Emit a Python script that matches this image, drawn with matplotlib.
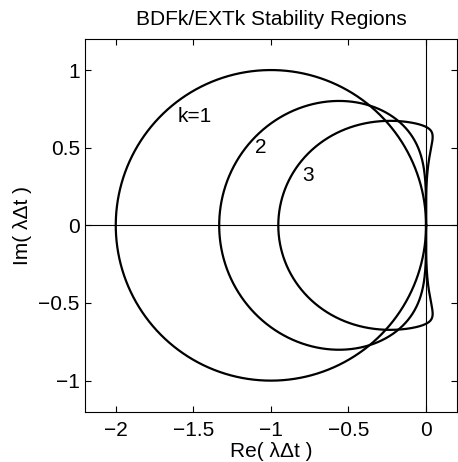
import numpy as np
import matplotlib
matplotlib.use("Agg")
import matplotlib.pyplot as plt

# BDFk / EXTk coefficients (highest power of z first)
bdf1 = [1.0, -1.0]
ext1 = [1.0]
bdf2 = [3/2, -2.0, 1/2]
ext2 = [2.0, -1.0]
bdf3 = [11/6, -3.0, 3/2, -1/3]
ext3 = [3.0, -3.0, 1.0]

schemes = [(bdf1, ext1), (bdf2, ext2), (bdf3, ext3)]
labels = ["k=1", "2", "3"]
label_pos = [(-1.6, 0.7), (-1.1, 0.5), (-0.8, 0.32)]

plt.rcParams['font.family'] = ['Liberation Sans', 'DejaVu Sans']
plt.rcParams['font.size'] = 15

fig = plt.figure(figsize=(4.58, 4.62), dpi=100)
ax = fig.add_axes([0.185, 0.1089, 0.813, 0.8067])

# boundary locus: lambda*dt = rho(z)/sigma(z), z = exp(i theta)
th = np.linspace(0, 2*np.pi, 2000)
z = np.exp(1j*th)
for bdf, ext in schemes:
    w = np.polyval(bdf, z) / np.polyval(ext, z)
    ax.plot(w.real, w.imag, color='black', lw=1.6)

ax.axhline(0, color='black', lw=0.8)
ax.axvline(0, color='black', lw=0.8)

for lab, (x, y) in zip(labels, label_pos):
    ax.text(x, y, lab, ha='left', va='center', fontsize=15)

ax.set_xlim(-2.2, 0.2)
ax.set_ylim(-1.2, 1.2)
ax.set_xticks([-2, -1.5, -1, -0.5, 0])
ax.set_xticklabels(['\u22122', '\u22121.5', '\u22121', '\u22120.5', '0'])
ax.set_yticks([-1, -0.5, 0, 0.5, 1])
ax.set_yticklabels(['\u22121', '\u22120.5', '0', '0.5', '1'])
ax.tick_params(direction='in', top=True, right=True, length=4, width=0.8)
ax.tick_params(axis='x', pad=7)
for s in ax.spines.values():
    s.set_linewidth(0.8)

ax.set_title('BDFk/EXTk Stability Regions', fontsize=15, pad=10)
ax.set_xlabel('Re( \u03bb\u0394t )', labelpad=1)
ax.set_ylabel('Im( \u03bb\u0394t )', labelpad=5)

fig.savefig('out.png', dpi=100)
